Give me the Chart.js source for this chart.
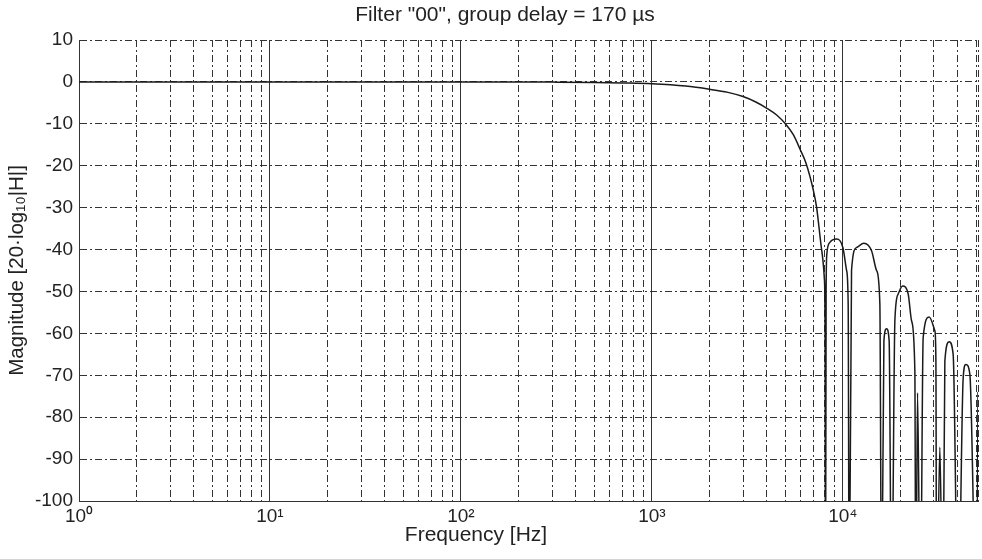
<!DOCTYPE html>
<html>
<head>
<meta charset="utf-8">
<script src="https://cdn.jsdelivr.net/npm/chart.js@4"></script>
<style>
  body { margin: 0; background: #fff; }
  canvas { display: block; }
</style>
</head>
<body>
<canvas id="chart" width="982" height="559"></canvas>
<script>
// Magnitude response (Hz, dB). Nulls dip below the axis.
const freqHz = [1, 100, 300, 500, 700, 1000, 1500, 2000, 2500, 3000, 3500, 4000, 4500, 5000,
    5500, 6000, 6400, 7000, 7280, 7740, 8000, 8070, 8110, 8170, 8245, 8550, 9270, 10000, 10460,
    10660, 10790, 11100, 11800, 12880, 14130, 15010, 15620, 15950, 16400, 16930, 17470, 17990,
    18720, 19490, 20540, 21980, 22890, 23820, 24100, 24600, 25450, 26330, 28300, 30320, 30700,
    30950, 32200, 33380, 34200, 36010, 37800, 40150, 42660, 44050, 46240, 50150, 51000];
const magDb = [0, 0, -0.05, -0.12, -0.25, -0.45, -1.0, -1.75, -2.5, -3.5, -4.8, -6.3, -7.9, -10,
    -12.6, -16.3, -19.3, -25.8, -29.8, -40, -47, -60, -130, -50, -41, -38.3, -37.5, -39.5, -45,
    -53, -130, -45, -39.5, -38.5, -40.3, -45, -53, -130, -61.8, -58.9, -61.8, -130,
    -57, -50.6, -48.7, -50.6, -57, -69, -130, -74.2, -130, -61, -56.1, -59.4, -66.6,
    -130, -87.2, -130, -66.6, -62, -65, -130, -70.6, -67.4, -69.8, -130, -74];

const xMin = 1;
const xMax = 51000;
const yMin = -100;
const yMax = 10;
const decadeLabels = ['10⁰', '10¹', '10²', '10³', '10⁴'];

const titleText = 'Filter "00", group delay = 170 µs';
const xTitle = 'Frequency [Hz]';
const yTitle = 'Magnitude [20·log₁₀|H|]';

// grid positions: 1..9 per decade, plus the right edge
const xGrid = [];
for (let e = 0; e <= 4; e++) {
    for (let m = 1; m <= 9; m++) {
        const v = m * Math.pow(10, e);
        if (v < xMax) xGrid.push(v);
    }
}
xGrid.push(xMax);

const fontFamily = "'Liberation Sans', Arial, Helvetica, sans-serif";
const dashDot = [7, 3, 2, 3];
const gridColor = '#333';
const solidAt = [10, 100, 1000, 10000];

Chart.defaults.font.family = fontFamily;
Chart.defaults.color = '#222';

// title and x label sit off-centre in the original, so draw them by hand
const freeText = {
    id: 'freeText',
    afterDraw(chart) {
        const c = chart.ctx;
        c.save();
        c.fillStyle = '#222';
        c.font = '21px ' + fontFamily;
        c.textAlign = 'center';
        c.textBaseline = 'middle';
        c.fillText(titleText, 505, 15.5);
        c.fillText(xTitle, 476, 535);
        c.restore();
    }
};

const ctx = document.getElementById('chart').getContext('2d');

new Chart(ctx, {
    type: 'line',
    data: {
        datasets: [{
            data: freqHz.map((f, i) => ({ x: f, y: magDb[i] })),
            borderColor: '#1a1a1a',
            borderWidth: 1.5,
            pointRadius: 0,
            fill: false,
            cubicInterpolationMode: 'monotone'
        }]
    },
    options: {
        responsive: false,
        animation: false,
        layout: { padding: { left: 0, right: 4, top: 40, bottom: 0 } },
        plugins: {
            legend: { display: false },
            tooltip: { enabled: false },
            title: { display: false }
        },
        scales: {
            x: {
                type: 'logarithmic',
                min: xMin,
                max: xMax,
                afterBuildTicks: (scale) => {
                    scale.ticks = xGrid.map(v => ({ value: v }));
                },
                afterFit: (scale) => { scale.height = 58; },
                grid: {
                    color: gridColor,
                    lineWidth: 1,
                    drawTicks: false
                },
                border: {
                    color: gridColor,
                    width: 1,
                    dash: (c) => (c.tick && solidAt.includes(c.tick.value)) ? [] : dashDot
                },
                ticks: {
                    autoSkip: false,
                    maxRotation: 0,
                    padding: 4,
                    font: { size: 19 },
                    color: '#222',
                    callback: (value) => {
                        const e = Math.log10(value);
                        if (Math.abs(e - Math.round(e)) < 1e-9 && Math.round(e) < decadeLabels.length) {
                            return decadeLabels[Math.round(e)];
                        }
                        return '';
                    }
                }
            },
            y: {
                type: 'linear',
                min: yMin,
                max: yMax,
                afterFit: (scale) => { scale.width = 79; },
                grid: {
                    color: gridColor,
                    lineWidth: 1,
                    drawTicks: false
                },
                border: {
                    color: gridColor,
                    width: 1,
                    dash: dashDot
                },
                ticks: {
                    stepSize: 10,
                    padding: 6,
                    font: { size: 19 },
                    color: '#222'
                },
                title: {
                    display: true,
                    text: yTitle,
                    color: '#222',
                    font: { size: 20.5 },
                    padding: { top: 5, bottom: 0 }
                }
            }
        }
    },
    plugins: [freeText]
});
</script>
</body>
</html>
